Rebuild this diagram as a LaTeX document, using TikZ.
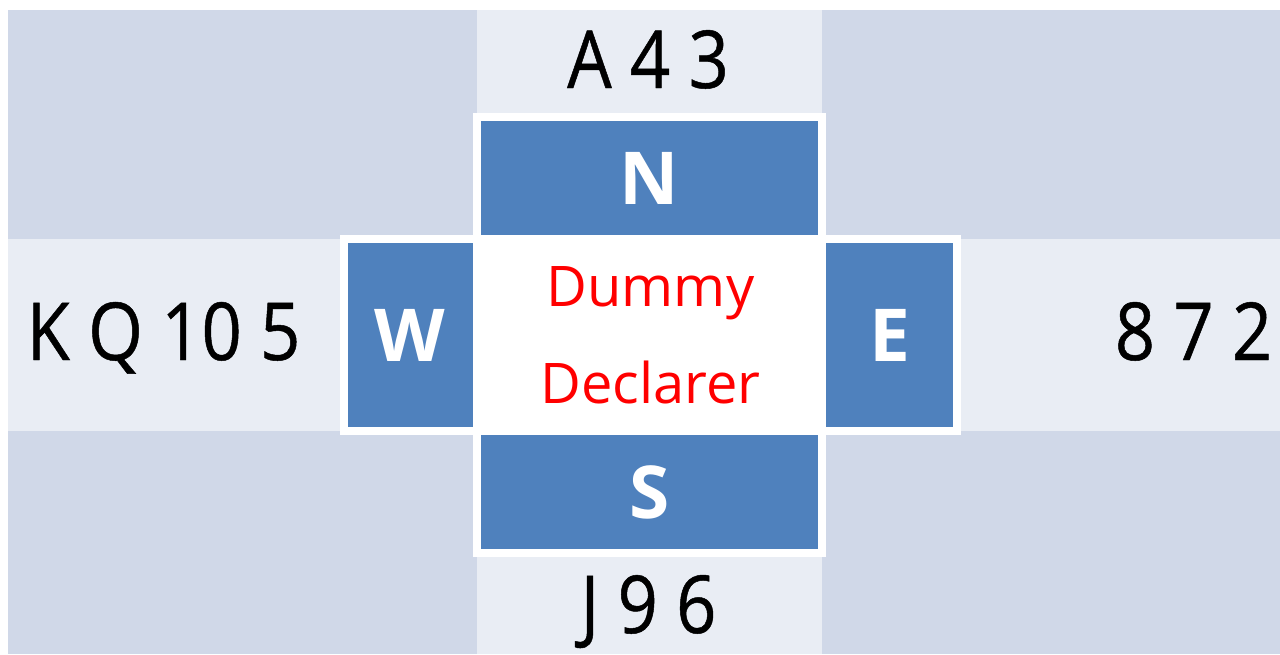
\documentclass[tikz,border=0pt]{standalone}
\usepackage{fontspec}
\setmainfont{Open Sans}
\newfontfamily\cardfont[FakeStretch=0.88,FakeBold=0.6]{Open Sans}
\definecolor{bgdark}{HTML}{D0D8E8}
\definecolor{bglight}{HTML}{E9EDF4}
\definecolor{seatblue}{HTML}{4F81BD}
\definecolor{rolered}{HTML}{FF0000}
\begin{document}
\begin{tikzpicture}[x=1pt,y=-1pt,
  seat/.style={rectangle, fill=seatblue, draw=white, line width=8pt, inner sep=0pt,
    text=white, font=\fontsize{73}{80}\selectfont\bfseries},
  cards/.style={anchor=base, inner sep=0pt, font=\cardfont\fontsize{80}{90}\selectfont},
  centrebox/.style={rectangle, fill=white, inner sep=0pt, align=center,
    text=rolered, font=\fontsize{56}{97}\selectfont},
]
\useasboundingbox (0,0) rectangle (1280,654);
\fill[white] (0,0) rectangle (1280,654);
\fill[bgdark] (8,10) rectangle (1280,654);
\fill[bglight] (477,10) rectangle (822,654);
\fill[bglight] (8,239) rectangle (1280,431);

\node[centrebox, minimum width=345pt, minimum height=192pt] (centre) at (650.5,335) {Dummy\\Declarer};

\node[seat, minimum width=345pt, minimum height=122pt] (north) at (649.5,178) {N};
\node[seat, minimum width=345pt, minimum height=122pt] (south) at (649.5,492) {S};
\node[seat, minimum width=133.5pt, minimum height=192pt] (west) at (410.25,335) {W};
\node[seat, minimum width=135pt, minimum height=192pt] (east) at (889.5,335) {E};

\node[cards] (ncards) at (648,88) {A 4 3};
\node[cards] (wcards) at (163.5,360) {K Q 10 5};
\node[cards] (ecards) at (1193.5,360) {8 7 2};
\node[cards] (scards) at (648.5,633) {J 9 6};
\end{tikzpicture}
\end{document}
